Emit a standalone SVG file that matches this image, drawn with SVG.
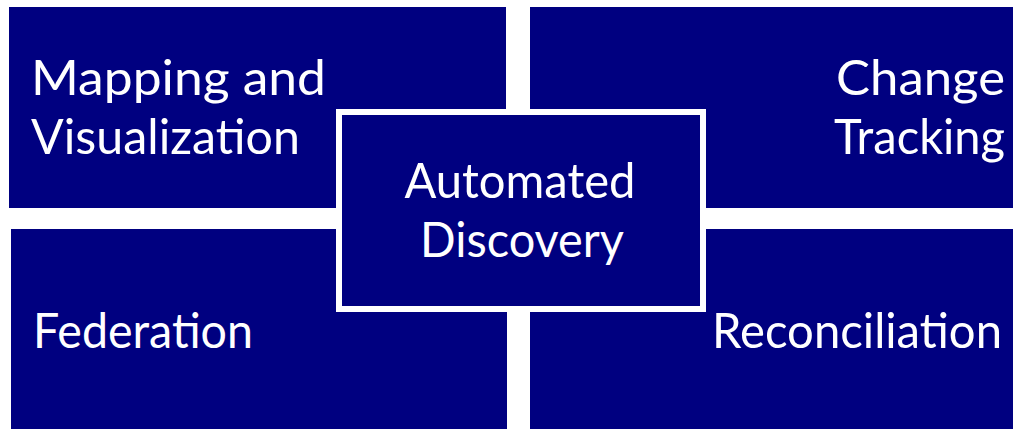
<svg xmlns="http://www.w3.org/2000/svg" width="1013" height="429" viewBox="0 0 1013 429">
<style>
.box{fill:#000080}
.center{fill:#000080;stroke:#ffffff;stroke-width:6}
.t{fill:#ffffff;font-family:Lato,"Liberation Sans",sans-serif;font-size:49px}
.r{text-anchor:end}
.m{text-anchor:middle}
</style>
<rect width="1013" height="429" fill="#ffffff"/>
<g id="connectors"></g>
<g id="mapping">
<rect class="box" x="9" y="7" width="497" height="201"/>
<text class="t" x="31" y="95" textLength="295" lengthAdjust="spacingAndGlyphs">Mapping and</text>
<text class="t" x="31" y="154" textLength="269" lengthAdjust="spacingAndGlyphs">Visualization</text>
</g>
<g id="change">
<rect class="box" x="530" y="7" width="483" height="201"/>
<text class="t r" x="1005" y="95" textLength="169" lengthAdjust="spacingAndGlyphs">Change</text>
<text class="t r" x="1005" y="154" textLength="171" lengthAdjust="spacingAndGlyphs">Tracking</text>
</g>
<g id="federation">
<rect class="box" x="11" y="229" width="496" height="200"/>
<text class="t" x="33" y="348" textLength="220" lengthAdjust="spacingAndGlyphs">Federation</text>
</g>
<g id="reconciliation">
<rect class="box" x="530" y="229" width="483" height="200"/>
<text class="t r" x="1002" y="348" textLength="290" lengthAdjust="spacingAndGlyphs">Reconciliation</text>
</g>
<g id="discovery">
<rect class="center" x="339" y="112" width="364" height="197"/>
<text class="t m" x="520" y="198" textLength="231" lengthAdjust="spacingAndGlyphs">Automated</text>
<text class="t m" x="522" y="257" textLength="204" lengthAdjust="spacingAndGlyphs">Discovery</text>
</g>
</svg>
